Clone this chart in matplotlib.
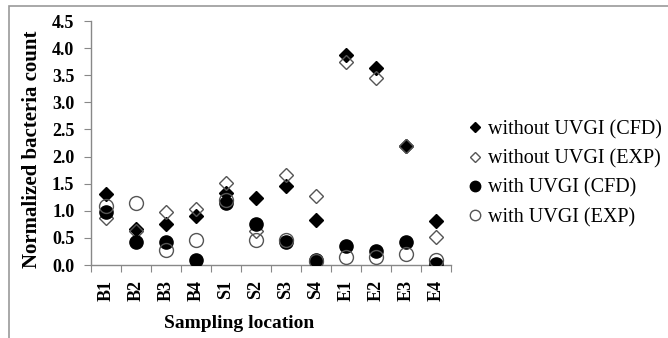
import matplotlib
matplotlib.use("Agg")
import matplotlib.pyplot as plt
from matplotlib.patches import Rectangle
from matplotlib.lines import Line2D

locations = ["B1", "B2", "B3", "B4", "S1", "S2", "S3", "S4", "E1", "E2", "E3", "E4"]
without_cfd = [1.31, 0.66, 0.76, 0.90, 1.33, 1.23, 1.46, 0.83, 3.87, 3.63, 2.20, 0.82]
without_exp = [0.86, 0.63, 0.97, 1.03, 1.51, 0.63, 1.66, 1.27, 3.75, 3.44, 2.20, 0.51]
with_cfd = [0.98, 0.42, 0.43, 0.10, 1.15, 0.76, 0.43, 0.09, 0.35, 0.26, 0.42, 0.02]
with_exp = [1.09, 1.15, 0.28, 0.46, 1.20, 0.46, 0.46, 0.07, 0.14, 0.14, 0.20, 0.09]
yticks = [0.0, 0.5, 1.0, 1.5, 2.0, 2.5, 3.0, 3.5, 4.0, 4.5]

plt.rcParams['font.family'] = ['Liberation Serif', 'DejaVu Serif']

W, H = 668, 338
fig = plt.figure(figsize=(W / 100, H / 100), dpi=100)
fig.patch.set_facecolor('white')
fig.patches.append(Rectangle((8.5 / W, -0.05), 1.2, 1 - 5.5 / H + 0.05,
                             transform=fig.transFigure, fill=False,
                             edgecolor='#999999', linewidth=1.2))

ax = fig.add_axes([91 / W, 1 - 265 / H, 360 / W, 244 / H])
x = list(range(len(locations)))
ax.plot(x, without_cfd, linestyle='none', marker='D', markersize=6.8,
        color='black', label='without UVGI (CFD)', zorder=3)
ax.plot(x, without_exp, linestyle='none', marker='D', markersize=6.8,
        markerfacecolor='none', markeredgecolor='#555555', markeredgewidth=1.0,
        label='without UVGI (EXP)', zorder=4)
ax.plot(x, with_cfd, linestyle='none', marker='o', markersize=9.5,
        color='black', label='with UVGI (CFD)', zorder=5)
ax.plot(x, with_exp, linestyle='none', marker='o', markersize=10,
        markerfacecolor='none', markeredgecolor='#555555', markeredgewidth=1.0,
        label='with UVGI (EXP)', zorder=6)

ax.set_xlim(-0.5, len(locations) - 0.5)
ax.set_ylim(0, 4.5)
ax.set_yticks(yticks)
ax.set_yticklabels([f"{v:.1f}" for v in yticks], fontweight='bold', fontsize=13)
ax.set_xticks([i - 0.5 for i in range(len(locations) + 1)])
ax.set_xticklabels([])
ax.set_xticks(x, minor=True)
ax.set_xticklabels(locations, minor=True, rotation=90, fontweight='bold', fontsize=13)
ax.tick_params(axis='x', which='minor', length=0, pad=11)
ax.tick_params(axis='x', which='major', length=5, color='#888888', direction='out')
ax.tick_params(axis='y', length=5, color='#888888', direction='out', pad=7)
for s in ['top', 'right']:
    ax.spines[s].set_visible(False)
for s in ['left', 'bottom']:
    ax.spines[s].set_color('#888888')
    ax.spines[s].set_linewidth(1.0)

ax.set_ylabel('Normalized bacteria count', fontweight='bold', fontsize=15, va='center')
ax.yaxis.set_label_coords((32 - 91) / 360, (265 - 149.5) / 244)
ax.set_xlabel('Sampling location', fontweight='bold', fontsize=14, va='center')
ax.xaxis.set_label_coords((238.7 - 91) / 360, (265 - 324) / 244)

handles = [
    Line2D([], [], linestyle='none', marker='D', markersize=5.5, color='black'),
    Line2D([], [], linestyle='none', marker='D', markersize=5.5, markerfacecolor='none',
           markeredgecolor='#555555'),
    Line2D([], [], linestyle='none', marker='o', markersize=7.5, color='black'),
    Line2D([], [], linestyle='none', marker='o', markersize=7.5, markerfacecolor='none',
           markeredgecolor='#555555'),
]
labels = ['without UVGI (CFD)', 'without UVGI (EXP)', 'with UVGI (CFD)', 'with UVGI (EXP)']
fig.legend(handles, labels, loc='upper left', bbox_to_anchor=(469 / W, 1 - 120 / H),
           frameon=False, fontsize=14.5, handlelength=0.6, handletextpad=0.35,
           labelspacing=0.5, borderpad=0, borderaxespad=0)

fig.savefig('out.png', dpi=100)
